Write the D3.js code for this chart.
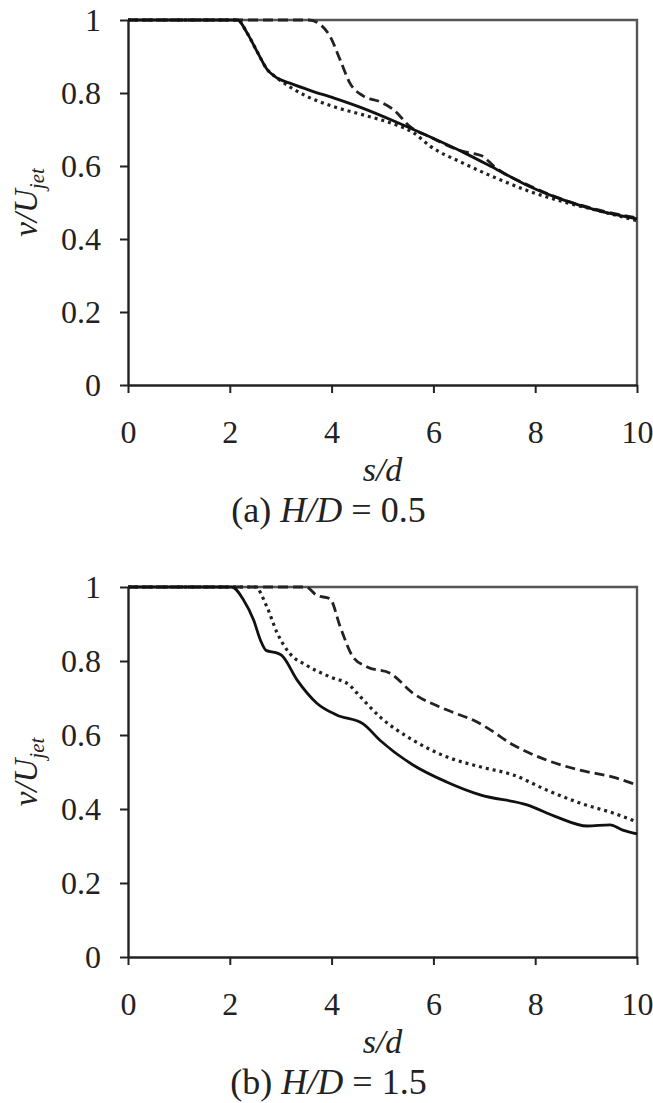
<!DOCTYPE html>
<html>
<head>
<meta charset="utf-8">
<script src="https://cdn.jsdelivr.net/npm/d3@7"></script>
<style>
  body { margin: 0; background: #fff; }
  svg text { font-family: "Liberation Serif", "DejaVu Serif", serif; fill: #222; }
</style>
</head>
<body>
<div class="chart"></div>
<script>
var width = 653,
    height = 1103;

// tick values
var xTicks = [0, 2, 4, 6, 8, 10];
var yTicks = [0, 0.2, 0.4, 0.6, 0.8, 1];

// (a) H/D = 0.5
var aSolid = [[0,1],[2.15,1],[2.35,0.962],[2.55,0.91],[2.73,0.865],[2.93,0.841],[3.18,0.827],[3.6,0.806],[4.05,0.786],[4.62,0.758],[5.28,0.72],[5.93,0.68],[6.58,0.638],[7.25,0.59],[7.9,0.543],[8.55,0.507],[9.2,0.479],[10,0.455]];
var aDashed = [[0,1],[3.55,1],[3.8,0.985],[3.97,0.955],[4.17,0.89],[4.36,0.827],[4.62,0.792],[4.95,0.776],[5.21,0.755],[5.55,0.707],[5.93,0.68],[6.58,0.64],[6.8,0.634],[6.95,0.628],[7.2,0.598],[7.9,0.545],[8.55,0.508],[9.2,0.481],[10,0.458]];
var aDotted = [[0,1],[2.15,1],[2.35,0.962],[2.55,0.91],[2.73,0.865],[2.93,0.841],[3.2,0.815],[3.5,0.792],[4.03,0.763],[4.62,0.740],[5.28,0.712],[5.6,0.692],[5.93,0.655],[6.58,0.608],[7.25,0.566],[7.9,0.53],[8.55,0.502],[9.2,0.479],[10,0.45]];

// (b) H/D = 1.5
var bSolid = [[0,1],[2.04,1],[2.27,0.965],[2.47,0.91],[2.6,0.857],[2.72,0.828],[2.92,0.822],[3.02,0.815],[3.32,0.749],[3.71,0.686],[4.1,0.654],[4.62,0.63],[4.95,0.586],[5.6,0.519],[6.26,0.473],[6.92,0.438],[7.84,0.411],[8.43,0.378],[9.02,0.354],[9.47,0.357],[9.72,0.343],[10,0.333]];
var bDashed = [[0,1],[3.5,1],[3.7,0.978],[3.97,0.968],[4.17,0.892],[4.42,0.811],[4.7,0.784],[5.15,0.767],[5.6,0.713],[6.26,0.668],[6.86,0.635],[7.05,0.62],[7.57,0.573],[8.23,0.532],[8.88,0.505],[9.53,0.486],[10,0.465]];
var bDotted = [[0,1],[2.5,1],[2.73,0.946],[2.93,0.876],[3.18,0.82],[3.5,0.789],[3.97,0.757],[4.35,0.735],[4.5,0.713],[4.95,0.649],[5.6,0.586],[6.26,0.541],[6.92,0.514],[7.57,0.492],[8.23,0.451],[8.88,0.416],[9.53,0.389],[10,0.365]];

var serif = "'Liberation Serif', 'DejaVu Serif', serif";

var svg = d3.select(".chart").append("svg")
    .attr("width", width)
    .attr("height", height);

function panel(top, h, solid, dashed, dotted, tag, ratio) {
  var left = 128, w = 509;
  var g = svg.append("g")
      .attr("transform", "translate(" + left + "," + top + ")");

  var x = d3.scaleLinear().domain([0, 10]).range([0, w]);
  var y = d3.scaleLinear().domain([0, 1]).range([h, 0]);

  // top and right frame
  g.append("path")
      .attr("d", "M0,0H" + w + "V" + h)
      .attr("fill", "none")
      .attr("stroke", "#555")
      .attr("stroke-width", 2.4);

  var line = d3.line()
      .x(function(d) { return x(d[0]); })
      .y(function(d) { return y(d[1]); })
      .curve(d3.curveMonotoneX);

  g.append("path").datum(dotted)
      .attr("fill", "none").attr("stroke", "#222")
      .attr("stroke-width", 3.2).attr("stroke-dasharray", "3,4")
      .attr("d", line);
  g.append("path").datum(dashed)
      .attr("fill", "none").attr("stroke", "#222")
      .attr("stroke-width", 2.8).attr("stroke-dasharray", "10,5")
      .attr("d", line);
  g.append("path").datum(solid)
      .attr("fill", "none").attr("stroke", "#111")
      .attr("stroke-width", 2.8)
      .attr("d", line);

  var xa = g.append("g")
      .attr("transform", "translate(0," + h + ")")
      .call(d3.axisBottom(x).tickValues(xTicks).tickSize(8).tickSizeOuter(0).tickPadding(27));
  var ya = g.append("g")
      .call(d3.axisLeft(y).tickValues(yTicks).tickSize(8).tickSizeOuter(0).tickPadding(19)
        .tickFormat(function(d) { return d === 0 || d === 1 ? d : d.toFixed(1); }));

  [xa, ya].forEach(function(a) {
    a.attr("font-family", null).attr("font-size", null);
    a.select(".domain").attr("stroke", "#222").attr("stroke-width", 2.4);
    a.selectAll(".tick line").attr("stroke", "#222").attr("stroke-width", 2);
    a.selectAll(".tick text")
      .style("font-family", serif).style("font-size", "32px")
      .attr("fill", "#222");
  });

  // axis titles
  g.append("text")
      .attr("x", w / 2).attr("y", h + 96)
      .attr("text-anchor", "middle")
      .style("font-size", "34px").style("font-style", "italic")
      .text("s/d");

  var yl = g.append("text")
      .attr("transform", "translate(" + (-91) + "," + (h / 2) + ") rotate(-90)")
      .attr("text-anchor", "middle")
      .style("font-size", "33px").style("font-style", "italic");
  yl.append("tspan").text("v/U");
  yl.append("tspan").style("font-size", "21px").attr("dy", 7).text("jet");

  var cap = g.append("text")
      .attr("x", w / 2 - 54).attr("y", h + 137)
      .attr("text-anchor", "middle")
      .style("font-size", "36px");
  cap.append("tspan").text("(" + tag + ") ");
  cap.append("tspan").style("font-style", "italic").text("H/D");
  cap.append("tspan").text(" = " + ratio);
}

panel(20, 365, aSolid, aDashed, aDotted, "a", "0.5");
panel(587, 370, bSolid, bDashed, bDotted, "b", "1.5");
</script>
</body>
</html>
